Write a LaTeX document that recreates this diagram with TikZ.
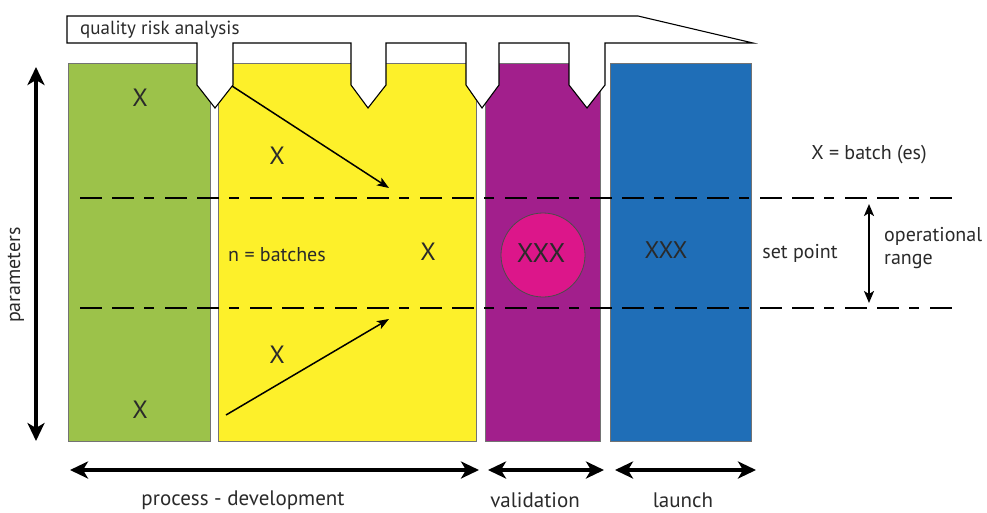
\documentclass[tikz,border=0pt]{standalone}
\usepackage{fontspec}
\setmainfont{PT Sans}
\usetikzlibrary{arrows.meta}
\definecolor{cgreen}{HTML}{9CC24A}
\definecolor{cyellow}{HTML}{FDF02A}
\definecolor{cpurple}{HTML}{A21F8C}
\definecolor{cmagenta}{HTML}{DC168A}
\definecolor{cblue}{HTML}{1F6EB7}
\definecolor{ctext}{HTML}{2A2A2A}
\tikzset{
  phase/.style={draw=black!55, line width=0.8pt},
  lbl/.style={text=ctext, inner sep=0pt, font=\fontsize{20}{23}\selectfont},
  bigx/.style={text=ctext, inner sep=0pt, font=\fontsize{25}{28}\selectfont},
  rangeline/.style={line width=2.8pt, dash pattern=on 22pt off 10pt on 22pt off 10pt on 10pt off 11pt},
  bigarrow/.style={line width=4pt, {Stealth[length=18pt,width=17pt,inset=5pt]}-{Stealth[length=18pt,width=17pt,inset=5pt]}},
  midarrow/.style={line width=2pt, {Stealth[length=12pt,width=10pt,inset=3pt]}-{Stealth[length=12pt,width=10pt,inset=3pt]}},
  trendarrow/.style={line width=1.5pt, -{Stealth[length=12pt,width=9pt,inset=3pt]}}
}
\begin{document}
\begin{tikzpicture}[x=1pt,y=-1pt]
\useasboundingbox[fill=white] (0,0) rectangle (987,512);
% phase boxes
\fill[cgreen] (68,63) rectangle (210,441);
\draw[phase] (68,63) rectangle (210,441);
\fill[cyellow] (218,63) rectangle (476,441);
\draw[phase] (218,63) rectangle (476,441);
\fill[cpurple] (485,63) rectangle (600,441);
\draw[phase] (485,63) rectangle (600,441);
\fill[cblue] (610,63) rectangle (751,441);
\draw[phase] (610,63) rectangle (751,441);
% range lines
\coordinate (u1) at (80,198); \coordinate (u2) at (955,198);
\coordinate (l1) at (80,308); \coordinate (l2) at (955,308);
\draw[rangeline] (u1) -- (u2);
\draw[rangeline] (l1) -- (l2);
% banner
\draw[fill=white, line width=1.1pt, line join=miter]
 (67,16) -- (638,16) -- (753,43) -- (605,43) -- (605,85) -- (587,108) -- (569,85) -- (569,43)
 -- (499,43) -- (499,85) -- (482,108) -- (466,85) -- (466,43)
 -- (386,43) -- (386,85) -- (368,108) -- (351,85) -- (351,43)
 -- (233,43) -- (233,85) -- (215,108) -- (197,85) -- (197,43) -- (67,43) -- cycle;
\node[lbl, anchor=west, font=\fontsize{19}{22}\selectfont] (qra) at (80,30) {quality risk analysis};
% green texts
\node[bigx] (g1) at (140,98) {X};
\node[bigx] (g2) at (140,410) {X};
% yellow texts
\node[bigx] (y1) at (277,156) {X};
\node[bigx] (y2) at (277,355) {X};
\node[lbl] (nb) at (277,255) {n = batches};
\node[bigx] (y3) at (428,252) {X};
% trend arrows
\coordinate (a1s) at (232,86); \coordinate (a1e) at (389,188);
\coordinate (a2s) at (226,415); \coordinate (a2e) at (389,319);
\draw[trendarrow] (a1s) -- (a1e);
\draw[trendarrow] (a2s) -- (a2e);
% purple circle
\node[circle, draw=black!70, line width=0.8pt, fill=cmagenta, minimum size=84pt, inner sep=0pt] (circ) at (543,255) {};
\node[bigx, font=\fontsize{27}{30}\selectfont] (pxxx) at (541,253) {XXX};
\node[bigx, font=\fontsize{24}{28}\selectfont] (bxxx) at (666,250) {XXX};
% right labels
\node[lbl] (xb) at (869,155) {X = batch (es)};
\node[lbl] (sp) at (800,253) {set point};
\node[lbl, anchor=west, align=left, font=\fontsize{20}{23}\selectfont] (opr) at (884,248) {operational\\range};
\coordinate (o1) at (869,204); \coordinate (o2) at (869,303);
\draw[midarrow] (o1) -- (o2);
% parameters axis
\coordinate (p1) at (36,67); \coordinate (p2) at (36,441);
\draw[bigarrow] (p1) -- (p2);
\node[lbl, rotate=90] (par) at (16,275) {parameters};
% bottom arrows
\coordinate (b1) at (70,470); \coordinate (b2) at (479,470);
\coordinate (b3) at (488,470); \coordinate (b4) at (604,470);
\coordinate (b5) at (615,470); \coordinate (b6) at (756,470);
\draw[bigarrow] (b1) -- (b2);
\draw[bigarrow] (b3) -- (b4);
\draw[bigarrow] (b5) -- (b6);
\node[lbl, font=\fontsize{21}{24}\selectfont] (pd) at (243,500) {process - development};
\node[lbl, font=\fontsize{21}{24}\selectfont] (val) at (535,500) {validation};
\node[lbl, font=\fontsize{21}{24}\selectfont] (lau) at (683,500) {launch};
\end{tikzpicture}
\end{document}
